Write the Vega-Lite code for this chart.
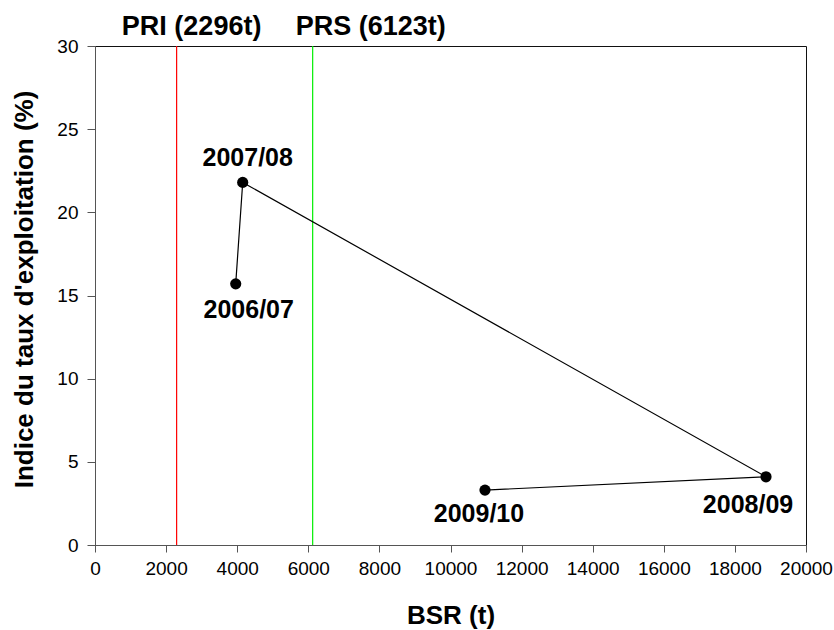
{
  "$schema": "https://vega.github.io/schema/vega-lite/v6.json",
  "width": 711,
  "height": 499,
  "autosize": {"type": "none"},
  "padding": {"left": 95, "top": 46, "right": 28, "bottom": 85},
  "background": "white",
  "config": {
    "view": {"stroke": "#111", "strokeWidth": 1},
    "font": "Liberation Sans",
    "axis": {
      "grid": false,
      "domainColor": "#555",
      "tickColor": "#555",
      "labelFont": "Liberation Sans",
      "labelFontSize": 19,
      "labelColor": "#000",
      "titleFont": "Liberation Sans",
      "titleFontSize": 26,
      "titleFontWeight": "bold",
      "titleColor": "#000"
    }
  },
  "datasets": {
    "pts": [
      {"season": "2006/07", "bsr": 3958, "taux": 15.7, "ord": 1},
      {"season": "2007/08", "bsr": 4155, "taux": 21.8, "ord": 2},
      {"season": "2008/09", "bsr": 18875, "taux": 4.1, "ord": 3},
      {"season": "2009/10", "bsr": 10970, "taux": 3.3, "ord": 4}
    ],
    "refs": [
      {"ref": "PRI", "label": "PRI (2296t)", "bsr": 2296},
      {"ref": "PRS", "label": "PRS (6123t)", "bsr": 6123}
    ]
  },
  "layer": [
    {
      "data": {"name": "refs"},
      "mark": {"type": "rule", "strokeWidth": 1.2},
      "encoding": {
        "x": {"field": "bsr", "type": "quantitative"},
        "color": {
          "field": "ref",
          "type": "nominal",
          "scale": {"domain": ["PRI", "PRS"], "range": ["#ff0000", "#00ee00"]},
          "legend": null
        }
      }
    },
    {
      "data": {"name": "pts"},
      "mark": {"type": "line", "color": "#000", "strokeWidth": 1.2},
      "encoding": {
        "x": {
          "field": "bsr",
          "type": "quantitative",
          "title": "BSR (t)",
          "scale": {"domain": [0, 20000], "nice": false, "zero": true},
          "axis": {
            "values": [0, 2000, 4000, 6000, 8000, 10000, 12000, 14000, 16000, 18000, 20000],
            "format": "d",
            "tickSize": 7,
            "labelPadding": 7,
            "titleY": 78,
            "titleBaseline": "alphabetic",
            "labelFlush": false,
            "labelOverlap": false
          }
        },
        "y": {
          "field": "taux",
          "type": "quantitative",
          "title": "Indice du taux d'exploitation (%)",
          "scale": {"domain": [0, 30], "nice": false},
          "axis": {
            "values": [0, 5, 10, 15, 20, 25, 30],
            "tickSize": 8,
            "labelPadding": 9,
            "titleX": -63,
            "titleY": 243,
            "titleBaseline": "alphabetic",
            "labelFlush": false
          }
        },
        "order": {"field": "ord", "type": "quantitative"}
      }
    },
    {
      "data": {"name": "pts"},
      "mark": {"type": "point", "filled": true, "color": "#000", "opacity": 1, "size": 125},
      "encoding": {
        "x": {"field": "bsr", "type": "quantitative"},
        "y": {"field": "taux", "type": "quantitative"}
      }
    },
    {
      "data": {"name": "pts"},
      "transform": [{"filter": "datum.season == '2007/08'"}],
      "mark": {"type": "text", "fontSize": 25, "fontWeight": "bold", "align": "center", "baseline": "alphabetic", "dx": 5, "dy": -16, "color": "#000"},
      "encoding": {
        "x": {"field": "bsr", "type": "quantitative"},
        "y": {"field": "taux", "type": "quantitative"},
        "text": {"field": "season"}
      }
    },
    {
      "data": {"name": "pts"},
      "transform": [{"filter": "datum.season == '2006/07'"}],
      "mark": {"type": "text", "fontSize": 25, "fontWeight": "bold", "align": "center", "baseline": "alphabetic", "dx": 13, "dy": 34, "color": "#000"},
      "encoding": {
        "x": {"field": "bsr", "type": "quantitative"},
        "y": {"field": "taux", "type": "quantitative"},
        "text": {"field": "season"}
      }
    },
    {
      "data": {"name": "pts"},
      "transform": [{"filter": "datum.season == '2009/10'"}],
      "mark": {"type": "text", "fontSize": 25, "fontWeight": "bold", "align": "center", "baseline": "alphabetic", "dx": -6, "dy": 32, "color": "#000"},
      "encoding": {
        "x": {"field": "bsr", "type": "quantitative"},
        "y": {"field": "taux", "type": "quantitative"},
        "text": {"field": "season"}
      }
    },
    {
      "data": {"name": "pts"},
      "transform": [{"filter": "datum.season == '2008/09'"}],
      "mark": {"type": "text", "fontSize": 25, "fontWeight": "bold", "align": "center", "baseline": "alphabetic", "dx": -18, "dy": 36, "color": "#000"},
      "encoding": {
        "x": {"field": "bsr", "type": "quantitative"},
        "y": {"field": "taux", "type": "quantitative"},
        "text": {"field": "season"}
      }
    },
    {
      "data": {"name": "refs"},
      "transform": [{"filter": "datum.ref == 'PRI'"}],
      "mark": {"type": "text", "fontSize": 27, "fontWeight": "bold", "align": "center", "baseline": "alphabetic", "dx": 15, "dy": -11, "color": "#000"},
      "encoding": {
        "x": {"field": "bsr", "type": "quantitative"},
        "y": {"datum": 30},
        "text": {"field": "label"}
      }
    },
    {
      "data": {"name": "refs"},
      "transform": [{"filter": "datum.ref == 'PRS'"}],
      "mark": {"type": "text", "fontSize": 27, "fontWeight": "bold", "align": "center", "baseline": "alphabetic", "dx": 58, "dy": -11, "color": "#000"},
      "encoding": {
        "x": {"field": "bsr", "type": "quantitative"},
        "y": {"datum": 30},
        "text": {"field": "label"}
      }
    }
  ]
}
